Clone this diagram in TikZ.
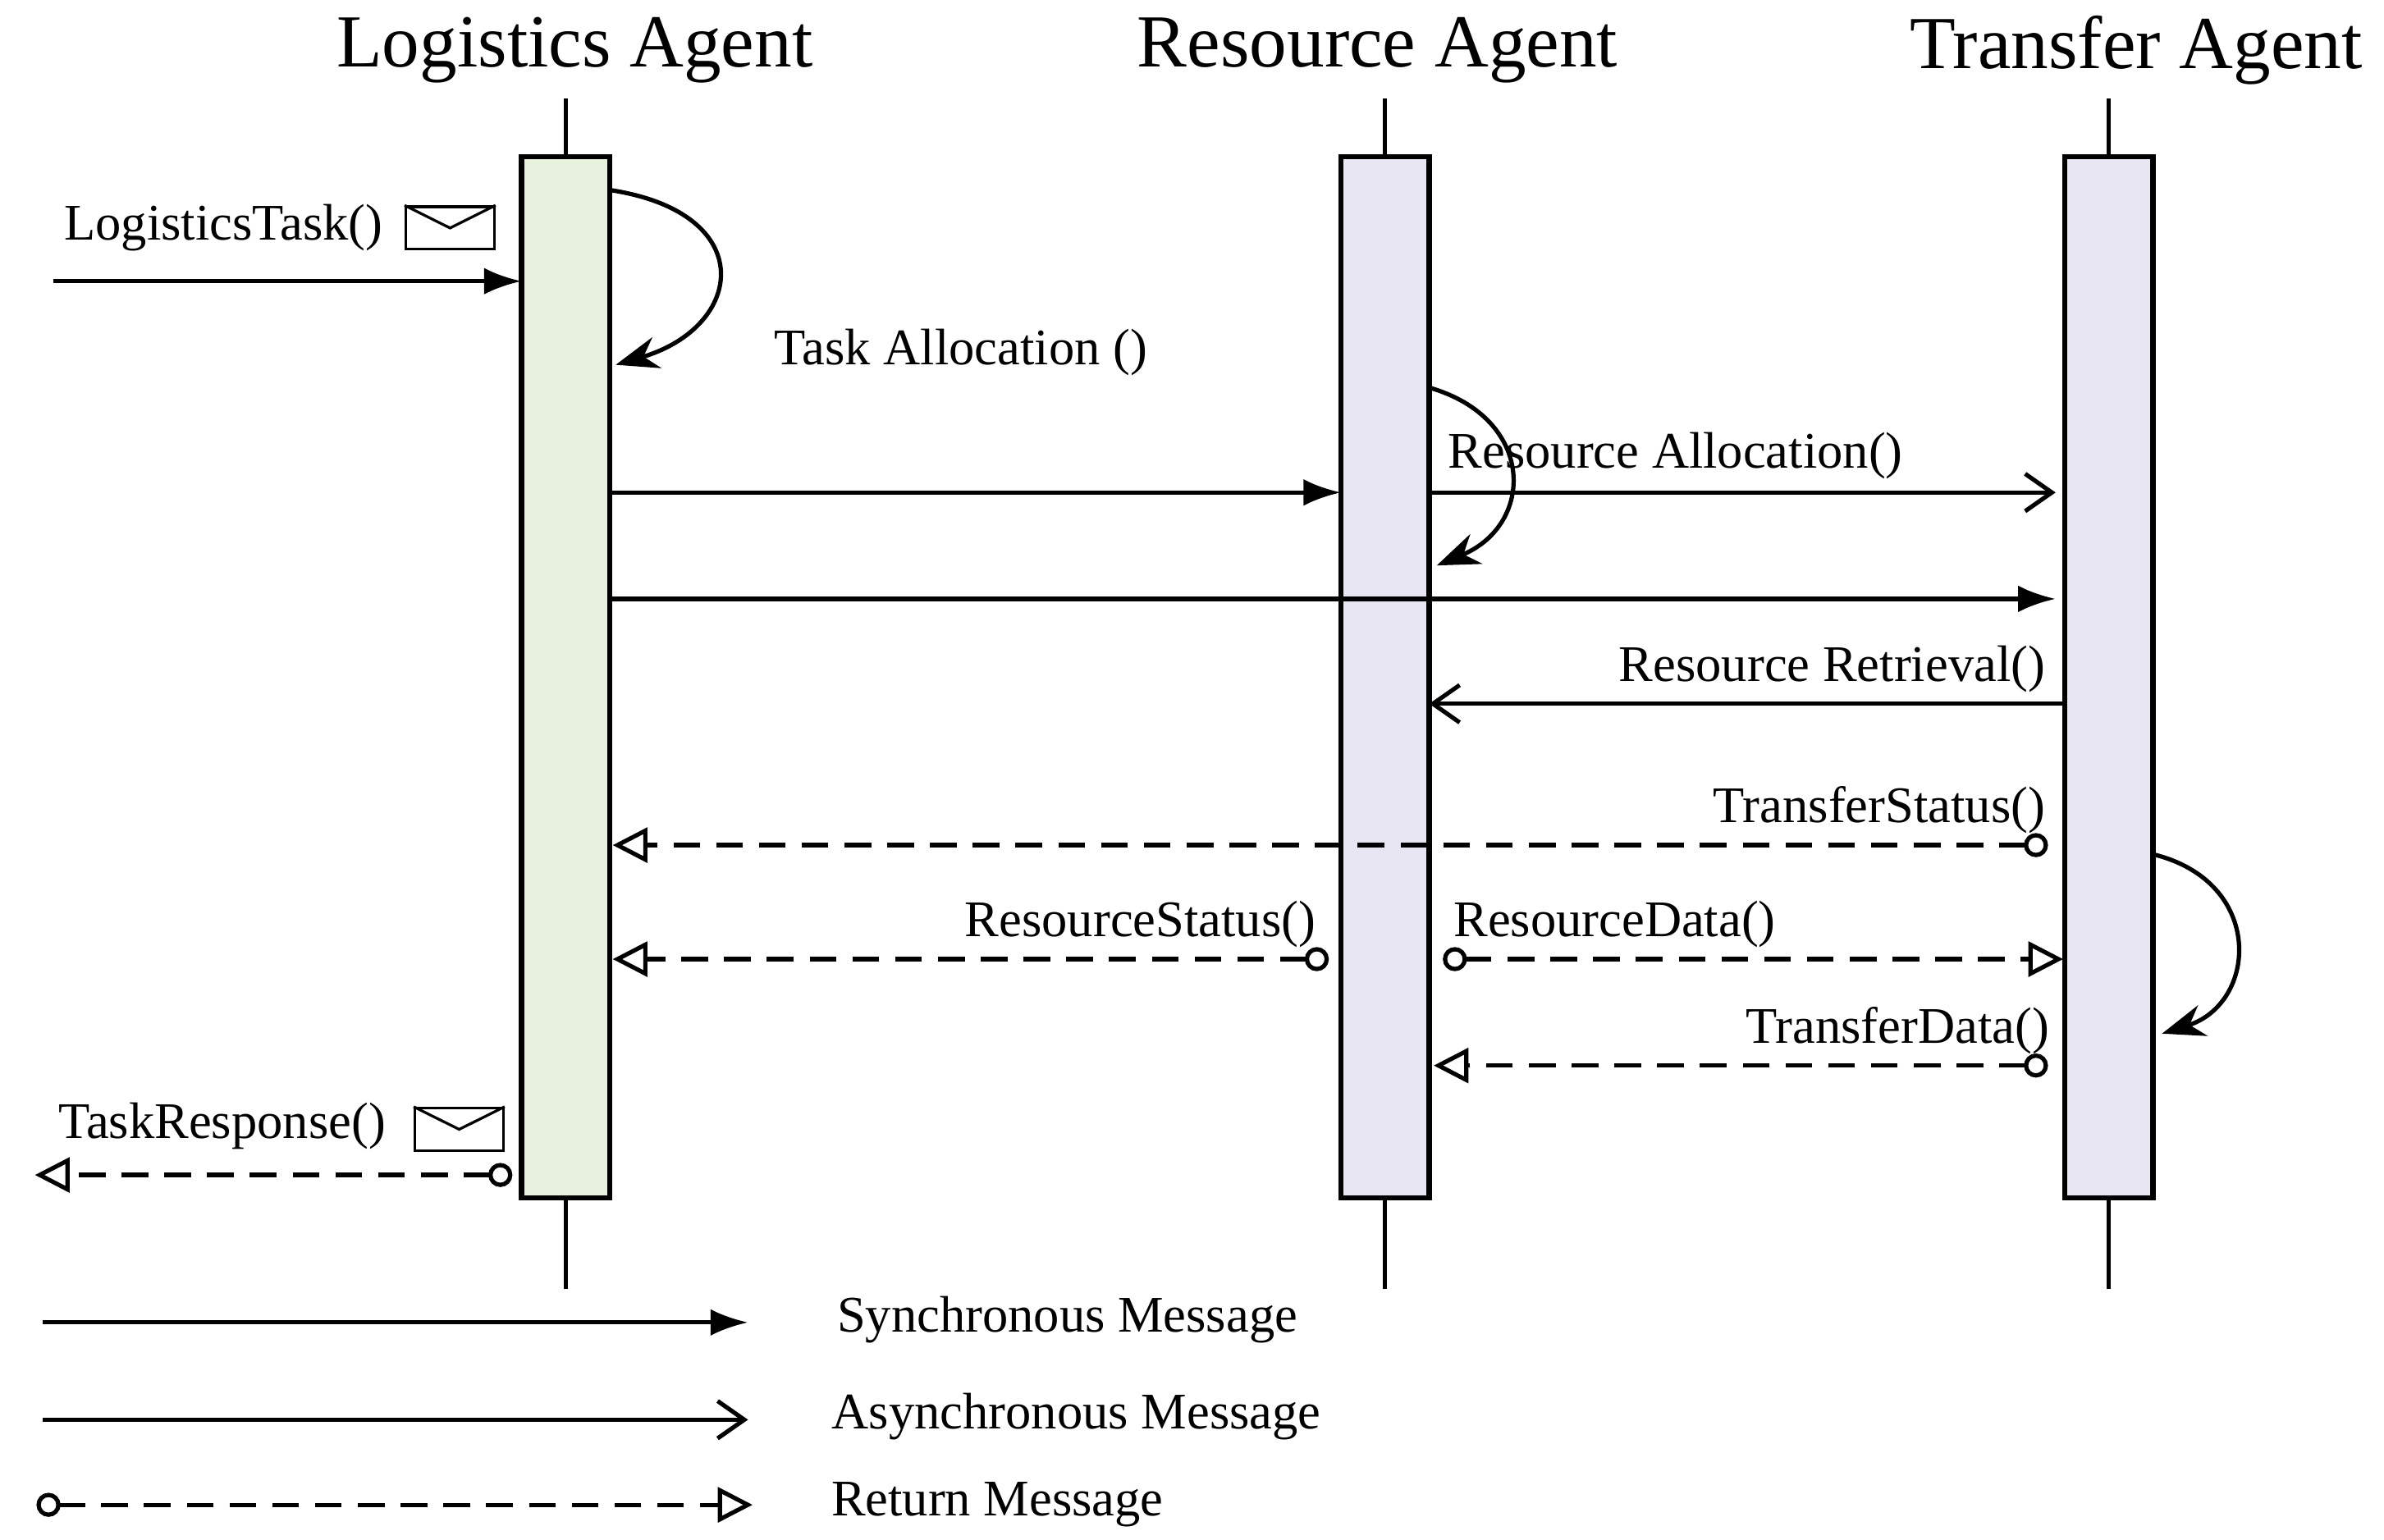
\documentclass[tikz,border=0pt]{standalone}
\usepackage{fontspec}
\setmainfont{Liberation Serif}
\usetikzlibrary{arrows.meta}
\begin{document}
\begin{tikzpicture}[x=0.01cm,y=-0.01cm,
  line width=0.8pt,
  hdr/.style={font=\fontsize{14}{16}\selectfont},
  lbl/.style={font=\fontsize{9.6}{11}\selectfont},
  life/.style={line width=0.8pt},
  act/.style={draw,line width=1.0pt},
  sync/.style={-{Latex[length=7pt,width=5pt]}},
  async/.style={-{Straight Barb[length=5pt,width=7pt]}},
  ret/.style={dash pattern=on 5pt off 3pt,{Circle[open,length=4.5pt,width=4.5pt]}-{Triangle[open,length=6.5pt,width=6.5pt]}},
  env/.style={draw,line width=0.5pt,minimum width=0.58cm,minimum height=0.28cm,inner sep=0pt}
]
\useasboundingbox (0,0) rectangle (1568,1013);
% headers
\node[hdr] (hL) at (378,33) {Logistics Agent};
\node[hdr] (hR) at (906,33) {Resource Agent};
\node[hdr] (hT) at (1405,33) {Transfer Agent};
% lifelines
\draw[life] (372,65) -- (372,848);
\draw[life] (911,65) -- (911,848);
\draw[life] (1387,65) -- (1387,848);
% activation boxes
\draw[act,fill={rgb,255:red,232;green,240;blue,222}] (343,103) rectangle (401,788);
\draw[act,fill={rgb,255:red,232;green,230;blue,242}] (882,103) rectangle (940,788);
\draw[act,fill={rgb,255:red,232;green,230;blue,242}] (1358,103) rectangle (1416,788);
% coordinates
\coordinate (in0) at (35,185);
\coordinate (in1) at (343,185);
\coordinate (lA) at (401,125); \coordinate (lB) at (405,240);
\coordinate (m1a) at (401,324); \coordinate (m1b) at (882,324);
\coordinate (rA) at (940,255); \coordinate (rB) at (945,372);
\coordinate (m2a) at (940,324); \coordinate (m2b) at (1352,324);
\coordinate (m3a) at (401,394); \coordinate (m3b) at (1352,394);
\coordinate (m4a) at (1358,463); \coordinate (m4b) at (940,463);
\coordinate (m5a) at (1347,556); \coordinate (m5b) at (403,556);
\coordinate (m6a) at (874,631); \coordinate (m6b) at (403,631);
\coordinate (m7a) at (949,631); \coordinate (m7b) at (1357,631);
\coordinate (tA) at (1416,562); \coordinate (tB) at (1422,680);
\coordinate (m8a) at (1347,701); \coordinate (m8b) at (943,701);
\coordinate (m9a) at (337,773); \coordinate (m9b) at (23,773);
% messages
\draw[sync] (in0) -- (in1);
\node[lbl] (t1) at (147,150) {LogisticsTask()};
\node[env] (e1) at (296,150) {};
\draw[line width=0.5pt] (e1.north west) -- (e1.center) -- (e1.north east);
\draw[-{Stealth[length=8pt,width=6pt]}] (lA) .. controls (500,140) and (490,215) .. (lB);
\node[lbl] (t2) at (632,232) {Task Allocation ()};
\draw[sync] (m1a) -- (m1b);
\draw[-{Stealth[length=8pt,width=6pt]}] (rA) .. controls (1010,275) and (1010,345) .. (rB);
\draw[async] (m2a) -- (m2b);
\node[lbl] (t3) at (1102,300) {Resource Allocation()};
\draw[sync] (m3a) -- (m3b);
\draw[async] (m4a) -- (m4b);
\node[lbl] (t4) at (1205,440) {Resource Retrieval()};
\draw[ret] (m5a) -- (m5b);
\node[lbl] (t5) at (1236,533) {TransferStatus()};
\draw[ret] (m6a) -- (m6b);
\node[lbl] (t6) at (750,608) {ResourceStatus()};
\draw[ret] (m7a) -- (m7b);
\node[lbl] (t7) at (1062,608) {ResourceData()};
\draw[-{Stealth[length=8pt,width=6pt]}] (tA) .. controls (1490,580) and (1485,660) .. (tB);
\draw[ret] (m8a) -- (m8b);
\node[lbl] (t8) at (1248,678) {TransferData()};
\draw[ret] (m9a) -- (m9b);
\node[lbl] (t9) at (146,741) {TaskResponse()};
\node[env] (e2) at (302,743) {};
\draw[line width=0.5pt] (e2.north west) -- (e2.center) -- (e2.north east);
% legend
\coordinate (g1a) at (28,870); \coordinate (g1b) at (492,870);
\coordinate (g2a) at (28,934); \coordinate (g2b) at (492,934);
\coordinate (g3a) at (24,990); \coordinate (g3b) at (495,990);
\draw[sync] (g1a) -- (g1b);
\node[lbl] (l1) at (702,868) {Synchronous Message};
\draw[async] (g2a) -- (g2b);
\node[lbl] (l2) at (708,932) {Asynchronous Message};
\draw[ret] (g3a) -- (g3b);
\node[lbl] (l3) at (656,990) {Return Message};
\end{tikzpicture}
\end{document}
